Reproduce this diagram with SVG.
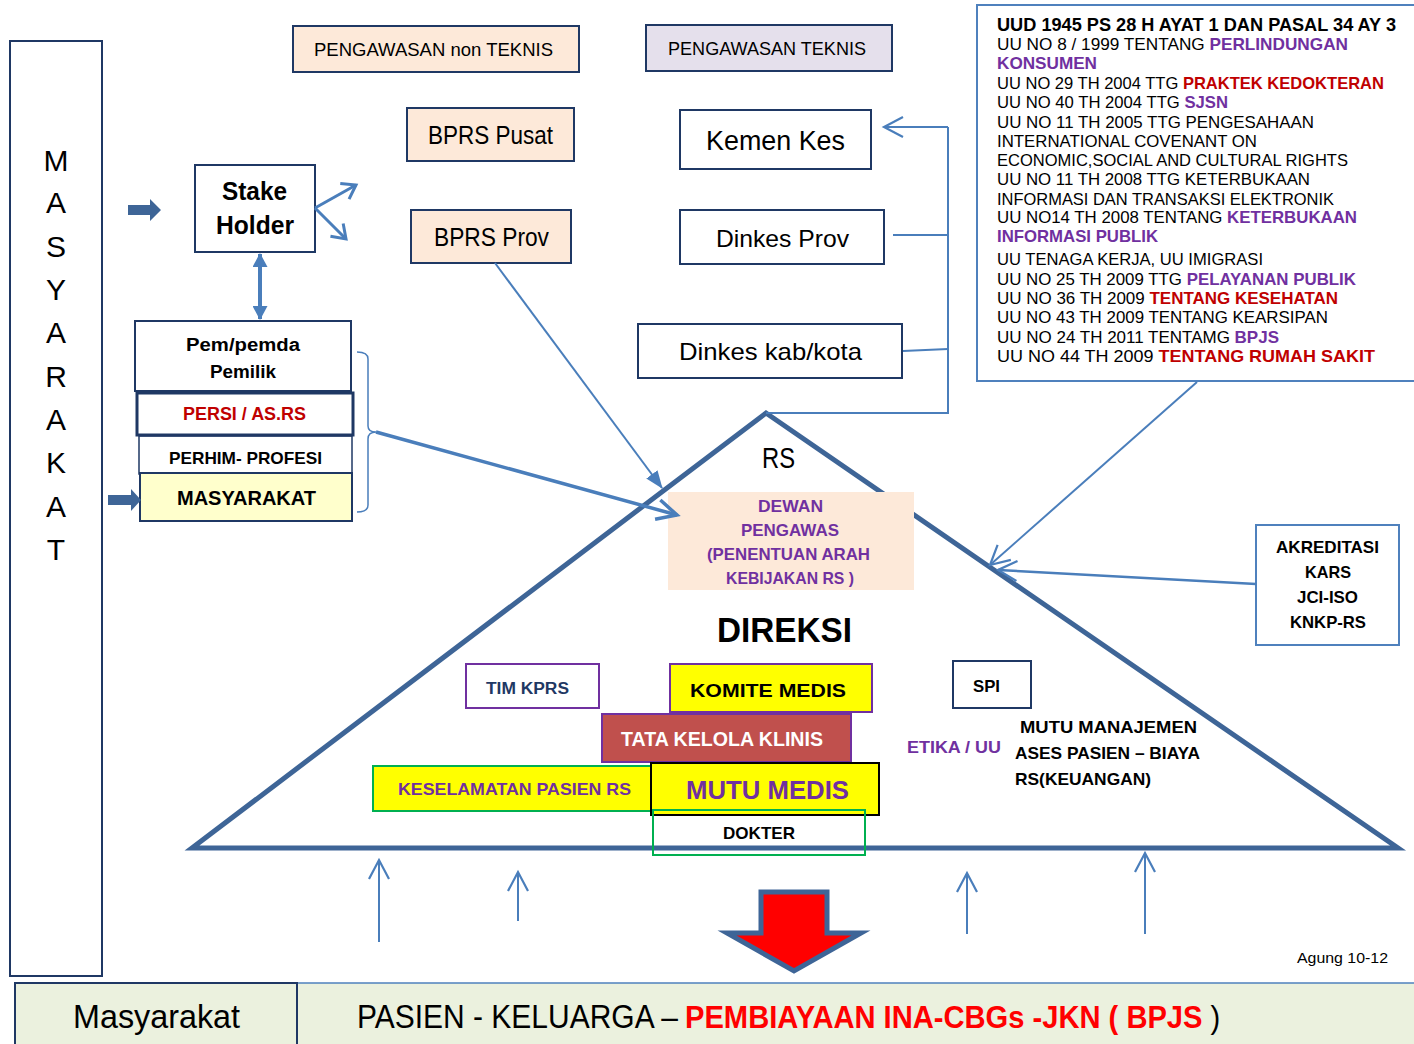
<svg xmlns="http://www.w3.org/2000/svg" width="1414" height="1044" viewBox="0 0 1414 1044">
<defs>
<style>
text{font-family:"Liberation Sans",Arial,sans-serif;fill:#000}
.b{font-weight:bold}
.pu{fill:#7030a0}
.rd{fill:#c00000}
.nv{stroke:#1f3864;stroke-width:2}
.peach{fill:#fde9d9}
.wh{fill:#fff}
.conn{fill:none;stroke:#4a7ebb}
.law{font-size:17px}
</style>
<marker id="ao" viewBox="-3 -3 26 26" markerWidth="26" markerHeight="26" refX="19" refY="10" orient="auto" markerUnits="userSpaceOnUse"><path d="M0,0 L19,10 L0,20" fill="none" stroke="#4a7ebb" stroke-width="2.2"/></marker>
<marker id="ao2" viewBox="-3 -3 28 28" markerWidth="28" markerHeight="28" refX="20" refY="10" orient="auto" markerUnits="userSpaceOnUse"><path d="M0,0 L20,10 L0,20" fill="none" stroke="#4a7ebb" stroke-width="3.5"/></marker>
<marker id="ao3" viewBox="-3 -3 22 24" markerWidth="22" markerHeight="24" refX="13" refY="9" orient="auto" markerUnits="userSpaceOnUse"><path d="M0,0 L13,9 L0,18" fill="none" stroke="#4a7ebb" stroke-width="3"/></marker>
<marker id="af" viewBox="0 0 18 14" markerWidth="18" markerHeight="14" refX="17" refY="7" orient="auto" markerUnits="userSpaceOnUse"><path d="M0,0 L18,7 L0,14 z" fill="#4a7ebb"/></marker>
<marker id="af2" viewBox="0 0 14 15" markerWidth="14" markerHeight="15" refX="13" refY="7.5" orient="auto-start-reverse" markerUnits="userSpaceOnUse"><path d="M0,0 L14,7.5 L0,15 z" fill="#4a7ebb"/></marker>
</defs>
<rect width="1414" height="1044" fill="#fff"/>

<g id="masyarakat-col">
<rect x="10" y="41" width="92" height="935" class="wh nv"/>
<g font-size="30" text-anchor="middle">
<text x="56" y="171">M</text><text x="56" y="213">A</text><text x="56" y="257">S</text><text x="56" y="300">Y</text><text x="56" y="343">A</text><text x="56" y="387">R</text><text x="56" y="430">A</text><text x="56" y="473">K</text><text x="56" y="517">A</text><text x="56" y="560">T</text>
</g>
</g>

<g id="peng-non-teknis"><rect x="293" y="26" width="286" height="46" class="peach nv"/><text x="314" y="56" font-size="18" textLength="239" lengthAdjust="spacingAndGlyphs">PENGAWASAN non TEKNIS</text></g>
<g id="peng-teknis"><rect x="646" y="25" width="246" height="46" fill="#e5e0ec" class="nv"/><text x="668" y="55" font-size="18" textLength="198" lengthAdjust="spacingAndGlyphs">PENGAWASAN TEKNIS</text></g>
<g id="bprs-pusat"><rect x="407" y="108" width="167" height="53" class="peach nv"/><text x="428" y="144" font-size="25" textLength="125" lengthAdjust="spacingAndGlyphs">BPRS Pusat</text></g>
<g id="bprs-prov"><rect x="411" y="210" width="160" height="53" class="peach nv"/><text x="434" y="246" font-size="25" textLength="115" lengthAdjust="spacingAndGlyphs">BPRS Prov</text></g>
<g id="kemenkes"><rect x="680" y="110" width="191" height="59" class="wh nv"/><text x="706" y="150" font-size="28" textLength="139" lengthAdjust="spacingAndGlyphs">Kemen Kes</text></g>
<g id="dinkes-prov"><rect x="680" y="210" width="204" height="54" class="wh nv"/><text x="716" y="247" font-size="24" textLength="133" lengthAdjust="spacingAndGlyphs">Dinkes Prov</text></g>
<g id="dinkes-kab"><rect x="638" y="324" width="264" height="54" class="wh nv"/><text x="679" y="360" font-size="24" textLength="183" lengthAdjust="spacingAndGlyphs">Dinkes kab/kota</text></g>

<g id="uu-list">
<rect x="977" y="5" width="450" height="376" fill="#fff" stroke="#4f81bd" stroke-width="2"/>
<g class="law">
<text x="997" y="31" class="b" font-size="18" textLength="399" lengthAdjust="spacingAndGlyphs">UUD 1945 PS 28 H AYAT 1 DAN PASAL 34 AY 3</text>
<text x="997" y="50" textLength="351" lengthAdjust="spacingAndGlyphs">UU NO 8 / 1999 TENTANG <tspan class="b pu">PERLINDUNGAN</tspan></text>
<text x="997" y="69" class="b pu" textLength="100" lengthAdjust="spacingAndGlyphs">KONSUMEN</text>
<text x="997" y="89" textLength="387" lengthAdjust="spacingAndGlyphs">UU NO 29 TH 2004 TTG <tspan class="b rd">PRAKTEK KEDOKTERAN</tspan></text>
<text x="997" y="108" textLength="231" lengthAdjust="spacingAndGlyphs">UU NO 40 TH 2004 TTG <tspan class="b pu">SJSN</tspan></text>
<text x="997" y="128" textLength="317" lengthAdjust="spacingAndGlyphs">UU NO 11 TH 2005 TTG PENGESAHAAN</text>
<text x="997" y="147" textLength="260" lengthAdjust="spacingAndGlyphs">INTERNATIONAL COVENANT ON</text>
<text x="997" y="166" textLength="351" lengthAdjust="spacingAndGlyphs">ECONOMIC,SOCIAL AND CULTURAL RIGHTS</text>
<text x="997" y="185" textLength="313" lengthAdjust="spacingAndGlyphs">UU NO 11 TH 2008 TTG KETERBUKAAN</text>
<text x="997" y="205" textLength="337" lengthAdjust="spacingAndGlyphs">INFORMASI DAN TRANSAKSI ELEKTRONIK</text>
<text x="997" y="223" textLength="360" lengthAdjust="spacingAndGlyphs">UU NO14 TH 2008 TENTANG <tspan class="b pu">KETERBUKAAN</tspan></text>
<text x="997" y="242" class="b pu" textLength="161" lengthAdjust="spacingAndGlyphs">INFORMASI PUBLIK</text>
<text x="997" y="265" textLength="266" lengthAdjust="spacingAndGlyphs">UU TENAGA KERJA, UU IMIGRASI</text>
<text x="997" y="285" textLength="359" lengthAdjust="spacingAndGlyphs">UU NO 25 TH 2009 TTG <tspan class="b pu">PELAYANAN PUBLIK</tspan></text>
<text x="997" y="304" textLength="341" lengthAdjust="spacingAndGlyphs">UU NO 36 TH 2009 <tspan class="b rd">TENTANG KESEHATAN</tspan></text>
<text x="997" y="323" textLength="331" lengthAdjust="spacingAndGlyphs">UU NO 43 TH 2009 TENTANG KEARSIPAN</text>
<text x="997" y="343" textLength="282" lengthAdjust="spacingAndGlyphs">UU NO 24 TH 2011 TENTAMG <tspan class="b pu">BPJS</tspan></text>
<text x="997" y="362" textLength="378" lengthAdjust="spacingAndGlyphs">UU NO 44 TH 2009 <tspan class="b rd">TENTANG RUMAH SAKIT</tspan></text>
</g>
</g>

<g id="stake-holder"><rect x="195" y="165" width="120" height="87" class="wh nv"/><text x="222" y="200" class="b" font-size="25" textLength="65" lengthAdjust="spacingAndGlyphs">Stake</text><text x="216" y="234" class="b" font-size="25" textLength="78" lengthAdjust="spacingAndGlyphs">Holder</text></g>

<g id="pem-pemda"><rect x="135" y="321" width="216" height="70" class="wh nv"/><text x="186" y="351" class="b" font-size="18" textLength="114" lengthAdjust="spacingAndGlyphs">Pem/pemda</text><text x="210" y="378" class="b" font-size="18" textLength="66" lengthAdjust="spacingAndGlyphs">Pemilik</text></g>
<g id="perhim"><rect x="139" y="436" width="213" height="38" fill="#fff" stroke="#1f3864" stroke-width="1.5"/><text x="169" y="464" class="b" font-size="17" textLength="153" lengthAdjust="spacingAndGlyphs">PERHIM- PROFESI</text></g>
<g id="persi"><rect x="137" y="393" width="216" height="42" fill="#fff" stroke="#1f3864" stroke-width="3"/><text x="183" y="420" class="b rd" font-size="18" textLength="123" lengthAdjust="spacingAndGlyphs">PERSI / AS.RS</text></g>
<g id="masyarakat-box"><rect x="140" y="473" width="212" height="48" fill="#ffffcc" class="nv"/><text x="177" y="505" class="b" font-size="20" textLength="139" lengthAdjust="spacingAndGlyphs">MASYARAKAT</text></g>

<g id="rs-pyramid">
<polygon points="766,413 1398,848 192,848" fill="#fff" stroke="#3e6597" stroke-width="5"/>
<text x="762" y="468" font-size="29" textLength="33" lengthAdjust="spacingAndGlyphs">RS</text>
</g>
<g id="dewan-pengawas"><rect x="668" y="492" width="246" height="98" fill="#fde9d9"/>
<g class="b pu" font-size="16.5">
<text x="758" y="512" class="b pu" textLength="65" lengthAdjust="spacingAndGlyphs">DEWAN</text>
<text x="741" y="536" class="b pu" textLength="98" lengthAdjust="spacingAndGlyphs">PENGAWAS</text>
<text x="707" y="560" class="b pu" textLength="163" lengthAdjust="spacingAndGlyphs">(PENENTUAN ARAH</text>
<text x="726" y="584" class="b pu" textLength="128" lengthAdjust="spacingAndGlyphs">KEBIJAKAN RS )</text>
</g></g>
<g id="direksi"><text x="717" y="642" class="b" font-size="35" textLength="135" lengthAdjust="spacingAndGlyphs">DIREKSI</text></g>
<g id="tim-kprs"><rect x="466" y="664" width="133" height="44" fill="#fff" stroke="#7030a0" stroke-width="2"/><text x="486" y="694" class="b" style="fill:#1f3864" font-size="16" textLength="83" lengthAdjust="spacingAndGlyphs">TIM KPRS</text></g>
<g id="komite-medis"><rect x="670" y="664" width="202" height="48" fill="#ffff00" stroke="#7030a0" stroke-width="2"/><text x="690" y="697" class="b" font-size="19" textLength="156" lengthAdjust="spacingAndGlyphs">KOMITE MEDIS</text></g>
<g id="tata-kelola"><rect x="602" y="714" width="249" height="48" fill="#c0504d" stroke="#7030a0" stroke-width="2"/><text x="621" y="746" class="b" style="fill:#fff" font-size="20" textLength="202" lengthAdjust="spacingAndGlyphs">TATA KELOLA KLINIS</text></g>
<g id="keselamatan"><rect x="373" y="766" width="279" height="45" fill="#ffff00" stroke="#00b050" stroke-width="2"/><text x="398" y="795" class="b pu" font-size="16.5" textLength="233" lengthAdjust="spacingAndGlyphs">KESELAMATAN PASIEN RS</text></g>
<g id="mutu-medis"><rect x="651" y="763" width="228" height="52" fill="#ffff00" stroke="#000" stroke-width="2"/><text x="686" y="799" class="b pu" font-size="25" textLength="163" lengthAdjust="spacingAndGlyphs">MUTU MEDIS</text></g>
<g id="dokter"><rect x="653" y="810" width="212" height="45" fill="none" stroke="#00b050" stroke-width="2"/><text x="723" y="839" class="b" font-size="17" textLength="72" lengthAdjust="spacingAndGlyphs">DOKTER</text></g>
<g id="spi"><rect x="953" y="661" width="78" height="47" class="wh nv"/><text x="973" y="692" class="b" font-size="17" textLength="27" lengthAdjust="spacingAndGlyphs">SPI</text></g>
<g id="etika"><text x="907" y="753" class="b pu" font-size="16" textLength="94" lengthAdjust="spacingAndGlyphs">ETIKA / UU</text></g>
<g id="mutu-manajemen">
<text x="1020" y="733" class="b" font-size="17" textLength="177" lengthAdjust="spacingAndGlyphs">MUTU MANAJEMEN</text>
<text x="1015" y="759" class="b" font-size="17" textLength="185" lengthAdjust="spacingAndGlyphs">ASES PASIEN – BIAYA</text>
<text x="1015" y="785" class="b" font-size="17" textLength="136" lengthAdjust="spacingAndGlyphs">RS(KEUANGAN)</text>
</g>
<g id="akreditasi"><rect x="1256" y="525" width="143" height="120" fill="#fff" stroke="#4f81bd" stroke-width="2"/>
<text x="1276" y="553" class="b" font-size="17" textLength="103" lengthAdjust="spacingAndGlyphs">AKREDITASI</text>
<text x="1305" y="578" class="b" font-size="17" textLength="46" lengthAdjust="spacingAndGlyphs">KARS</text>
<text x="1297" y="603" class="b" font-size="17" textLength="61" lengthAdjust="spacingAndGlyphs">JCI-ISO</text>
<text x="1290" y="628" class="b" font-size="17" textLength="76" lengthAdjust="spacingAndGlyphs">KNKP-RS</text>
</g>

<g id="bottom-bar">
<rect x="297" y="983" width="1130" height="70" fill="#ebf1de" stroke="#4f81bd" stroke-width="1.5"/>
<rect x="15" y="983" width="282" height="70" fill="#ebf1de" class="nv"/>
<text x="73" y="1028" font-size="33" textLength="167" lengthAdjust="spacingAndGlyphs">Masyarakat</text>
<text x="357" y="1028" font-size="33" textLength="321" lengthAdjust="spacingAndGlyphs">PASIEN -  KELUARGA –</text>
<text transform="translate(685,1028) scale(0.94,1)" font-size="31"><tspan class="b" style="fill:#ff0000">PEMBIAYAAN INA-CBGs -JKN ( BPJS</tspan> )</text>
</g>
<g id="credit"><text x="1297" y="963" font-size="15" textLength="91" lengthAdjust="spacingAndGlyphs">Agung 10-12</text></g>

<g id="connectors">
<polygon points="128,205 150,205 150,199 161,210 150,221 150,215 128,215" fill="#3e6597"/>
<polygon points="108,495 131,495 131,489 141,500 131,511 131,505 108,505" fill="#3e6597"/>
<g class="conn">
<path d="M315,208 L356,185" stroke-width="3" marker-end="url(#ao3)"/>
<path d="M315,208 L346,239" stroke-width="3" marker-end="url(#ao3)"/>
<path d="M260,254 L260,319" stroke-width="4" marker-start="url(#af2)" marker-end="url(#af2)"/>
<path d="M357,352 Q368,352 368,359 L368,426 Q368,432 376,432 Q368,432 368,439 L368,505 Q368,512 357,512" stroke-width="1.5"/>
<path d="M376,432 L677,515" stroke-width="3.5" marker-end="url(#ao2)"/>
<path d="M495,263 L662,488" stroke-width="2" marker-end="url(#af)"/>
<path d="M948,127 L884,127" stroke-width="2" marker-end="url(#ao)"/>
<path d="M948,127 L948,413 L766,413" stroke-width="2"/>
<path d="M893,235 L948,235" stroke-width="2"/>
<path d="M903,351 L948,349" stroke-width="2"/>
<path d="M1197,382 L990,565" stroke-width="2" marker-end="url(#ao)"/>
<path d="M1256,584 L998,570" stroke-width="2.5" marker-end="url(#ao)"/>
<path d="M379,942 L379,860" stroke-width="2" marker-end="url(#ao)"/>
<path d="M518,921 L518,872" stroke-width="2" marker-end="url(#ao)"/>
<path d="M967,934 L967,873" stroke-width="2" marker-end="url(#ao)"/>
<path d="M1145,934 L1145,853" stroke-width="2" marker-end="url(#ao)"/>
</g>
<polygon points="761,892 827,892 827,933 861,933 794,971 727,933 761,933" fill="#ff0000" stroke="#3e6597" stroke-width="5"/>
</g>
</svg>
